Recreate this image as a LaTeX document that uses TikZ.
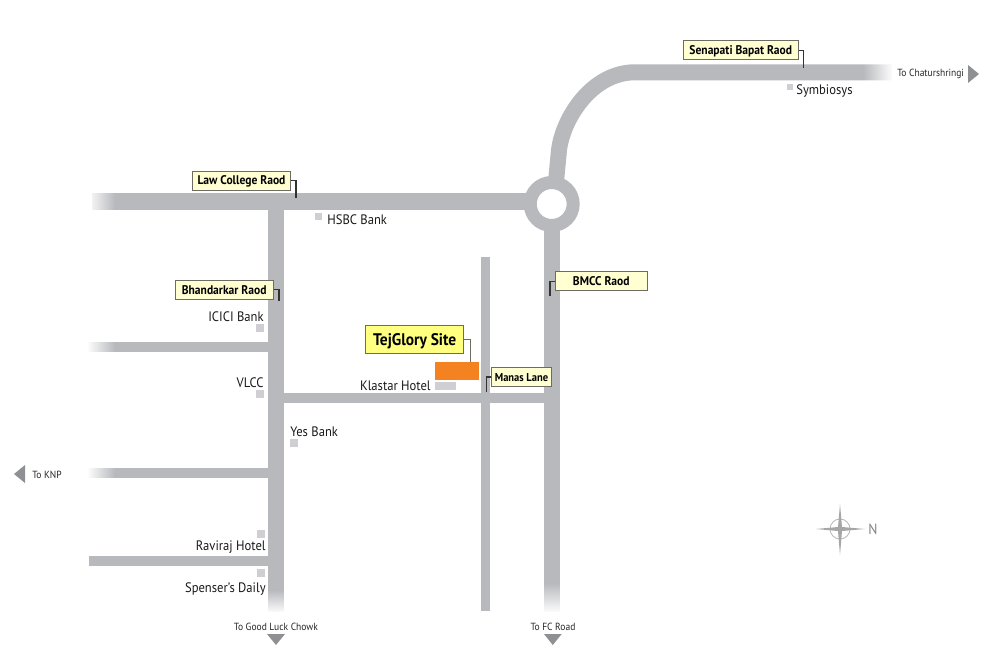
\documentclass[tikz,border=0pt]{standalone}
\usepackage{fontspec}
\usetikzlibrary{fadings}
\setmainfont{PT Sans}[FakeStretch=0.92]
\definecolor{roadgray}{HTML}{B8B9BD}
\definecolor{markgray}{HTML}{CFCFD3}
\definecolor{tipgray}{HTML}{8F9094}
\definecolor{tagfill}{HTML}{FFFFD2}
\definecolor{sitefill}{HTML}{FFFF80}
\definecolor{siteorange}{HTML}{F58220}
\definecolor{tagedge}{HTML}{6C6C62}
\tikzfading[name=fadeleft,left color=transparent!0,right color=transparent!100]
\tikzfading[name=faderight,left color=transparent!100,right color=transparent!0]
\tikzfading[name=fadedown,top color=transparent!100,bottom color=transparent!0]
\tikzset{
	road/.style={fill=roadgray},
	placemark/.style={fill=markgray},
	tip/.style={fill=tipgray},
	tag/.style={draw=tagedge,line width=0.5pt,fill=tagfill,inner sep=0pt,minimum height=0.38cm,text height=4.9pt,text depth=0pt,font=\fontsize{7.15}{8}\selectfont\bfseries},
	sitetag/.style={tag,fill=sitefill,minimum height=0.55cm,minimum width=1.96cm,text height=6.6pt,font=\fontsize{9.55}{10}\selectfont\bfseries},
	place/.style={inner sep=0pt,text=black!90,font=\fontsize{7.8}{9}\selectfont},
	dest/.style={inner sep=0pt,text=black!85,font=\fontsize{5.9}{7}\selectfont},
	tagline/.style={draw=black!80,line width=0.6pt}
}
\begin{document}
\begin{tikzpicture}[x=0.02cm,y=-0.02cm]
	\useasboundingbox (0,0) rectangle (1000,663);
	% straight roads
	\fill[road] (92,193) rectangle (535,209.5);
	\fill[road] (268,209) rectangle (284,612);
	\fill[road] (88,341.7) rectangle (268,351.7);
	\fill[road] (88,467.7) rectangle (268,477.5);
	\fill[road] (89,556) rectangle (268,566);
	\fill[road] (284,392.7) rectangle (545,402.7);
	\fill[road] (480.7,257) rectangle (490.3,610.5);
	\fill[road] (544,225) rectangle (560.3,612);
	%
	\draw[roadgray,line width=0.32cm] (556,182) -- (559,150) .. controls (563,118) and (592,72.3) .. (635,72.3) -- (892,72.3);
	\draw[roadgray,line width=0.26cm,fill=white] (551.7,204) circle (21.5);
	% road ends fade out
	\fill[white,path fading=fadeleft] (87,190) rectangle (115,212);
	\fill[white,path fading=fadeleft] (87,339) rectangle (115,354);
	\fill[white,path fading=fadeleft] (87,465) rectangle (115,480);
	\fill[white,path fading=faderight] (863,62) rectangle (893,83);
	\fill[white,path fading=fadedown] (265,590) rectangle (287,613);
	\fill[white,path fading=fadedown] (541,583) rectangle (563,613);
	% site and places
	\node[fill=siteorange,inner sep=0pt,minimum width=0.886cm,minimum height=0.354cm] (site) at (457.2,371.2) {};
	\fill[placemark] (435,381.7) rectangle (456,390);
	\fill[placemark] (787.3,84) rectangle (793.3,89.7);
	\fill[placemark] (315,213.3) rectangle (321.7,220);
	\fill[placemark] (256,324) rectangle (264,332);
	\fill[placemark] (256,390) rectangle (264,398);
	\fill[placemark] (289.7,439.3) rectangle (297.7,447.3);
	\fill[placemark] (257.3,529.7) rectangle (265.3,537.7);
	\fill[placemark] (257.3,569) rectangle (265.3,577);
	%
	\node[place,anchor=west] (symbiosys) at (796,91) {Symbiosys};
	\node[place,anchor=west] (hsbc) at (327,220) {HSBC Bank};
	\node[place,anchor=east] (icici) at (264,317) {ICICI Bank};
	\node[place,anchor=east] (vlcc) at (264,383) {VLCC};
	\node[place,anchor=west] (yesbank) at (290,432) {Yes Bank};
	\node[place,anchor=east] (raviraj) at (266,547) {Raviraj Hotel};
	\node[place,anchor=east] (spenser) at (266,589) {Spenser's Daily};
	\node[place,anchor=east] (klastar) at (431,386) {Klastar Hotel};
	% road tags
	\node[tag,minimum width=2.3cm] (senapati) at (740.8,50.3) {Senapati Bapat Raod};
	\node[tag,minimum width=1.967cm] (lawcollege) at (241.5,180.5) {Law College Raod};
	\node[tag,minimum width=1.967cm] (bhandarkar) at (224.2,289.8) {Bhandarkar Raod};
	\node[tag,minimum width=1.84cm] (bmcc) at (601.3,281.2) {BMCC Raod};
	\node[tag,minimum width=1.19cm,font=\fontsize{6.5}{8}\selectfont\bfseries] (manas) at (521.5,377) {Manas Lane};
	\node[sitetag] (tejglory) at (414.7,339.2) {TejGlory Site};
	%
	\coordinate (senapatiend) at (803.5,68);
	\coordinate (lawcollegeend) at (296,198);
	\coordinate (bhandarkarend) at (279,300.7);
	\coordinate (bmccend) at (550,295.7);
	\coordinate (manasend) at (486.7,391.7);
	\coordinate (tejgloryend) at (470.3,362.3);
	%
	\draw[tagline] (senapati.east) -| (senapatiend);
	\draw[tagline] (lawcollege.east) -| (lawcollegeend);
	\draw[tagline] (bhandarkar.east) -| (bhandarkarend);
	\draw[tagline] (bmcc.west) -| (bmccend);
	\draw[tagline] (manas.west) -| (manasend);
	\draw[draw=tagedge,line width=0.4pt] (tejglory.east) -| (tejgloryend);
	% directions
	\node[dest,anchor=west] (chatur) at (897,73.5) {To Chaturshringi};
	\node[dest,anchor=west] (knp) at (32,475) {To KNP};
	\node[dest] (goodluck) at (276,626.5) {To Good Luck Chowk};
	\node[dest] (fcroad) at (553,626.5) {To FC Road};
	%
	\fill[tip] (968,65) -- (979,74) -- (968,83) -- cycle;
	\fill[tip] (25,465) -- (14,474) -- (25,483) -- cycle;
	\fill[tip] (267,634) -- (285,634) -- (276,645) -- cycle;
	\fill[tip] (544,634) -- (561.7,634) -- (552.8,645) -- cycle;
	% compass
	\draw[roadgray,line width=0.5pt] (840,529) circle (10);
	\fill[black!35] (840,504) -- (842,527) -- (865,529) -- (842,531) -- (840,555) -- (838,531) -- (815.7,529) -- (838,527) -- cycle;
	\node[inner sep=0pt,text=black!50,font=\fontsize{8.4}{10}\selectfont] (north) at (873,529) {N};
\end{tikzpicture}
\end{document}
